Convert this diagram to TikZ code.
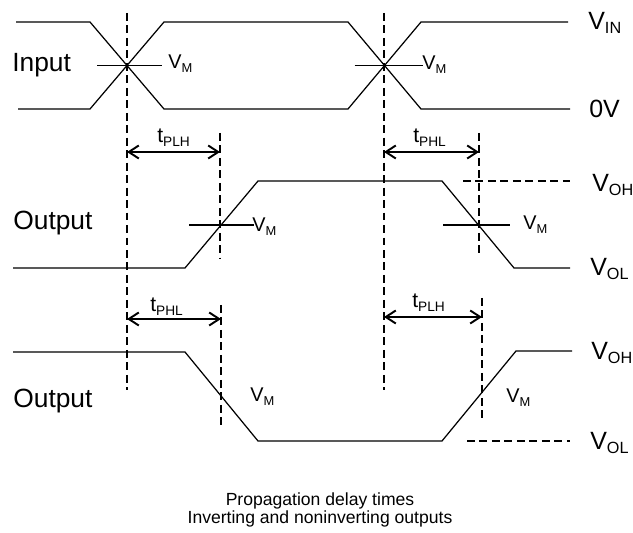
\documentclass[tikz,border=0pt]{standalone}
\usepackage{fontspec}
\setmainfont{Liberation Sans}
\usetikzlibrary{arrows.meta}
\newcommand{\pedice}[1]{\raisebox{-0.3ex}{\scalebox{0.65}{#1}}}
\tikzset{
    onda/.style={line width=0.7pt, black},
    tratteggio/.style={line width=0.7pt, dash pattern=on 4.5pt off 2.6pt},
    tacca/.style={line width=0.7pt},
    misura/.style={{Straight Barb[length=2mm,width=2.6mm]}-{Straight Barb[length=2mm,width=2.6mm]}, line width=1.1pt},
    segnale/.style={font=\fontsize{15}{18}\selectfont, inner sep=0pt, anchor=base west},
    livello/.style={font=\fontsize{14.2}{17}\selectfont, inner sep=0pt, anchor=base west},
    soglia/.style={font=\fontsize{11.3}{13}\selectfont, inner sep=0pt, anchor=base west},
    ritardo/.style={font=\fontsize{12}{14}\selectfont, inner sep=0pt, anchor=base west},
}
\begin{document}
\begin{tikzpicture}[x=0.02cm, y=-0.02cm] % coordinate in pixel, y verso il basso
    \useasboundingbox (0,0) rectangle (633,533);

    % Ingresso
    \draw[onda] (16,22) -- (90,22) -- (164,109) -- (348,109) -- (421,22) -- (568,22);
    \draw[onda] (18,109) -- (90,109) -- (164,22) -- (348,22) -- (421,109) -- (570,109);
    \coordinate (xin1) at (127,65.5);
    \coordinate (xin2) at (384.5,65.5);
    \draw[tacca] ([xshift=-17]xin1) -- ([xshift=20]xin1);
    \draw[tacca] ([xshift=-17]xin2) -- ([xshift=22]xin2);
    \node[segnale] (lin) at (12,72) {Input};
    \node[soglia] (vm1) at (168,69) {V\pedice{M}};
    \node[soglia] (vm2) at (422,70) {V\pedice{M}};
    \node[livello] (vin) at (588,30) {V\pedice{IN}};
    \node[livello] (zv) at (589,118) {0V};

    % Uscita non invertente
    \draw[onda] (13,268) -- (185,268) -- (258,181) -- (442,181) -- (514,268) -- (570,268);
    \coordinate (xo1) at (221,225);
    \coordinate (xo2) at (478.5,225);
    \draw[tacca] ([xshift=-18]xo1) -- ([xshift=19]xo1);
    \draw[tacca] ([xshift=-20]xo2) -- ([xshift=18]xo2);
    \draw[tratteggio] (463,181) -- (570,181);
    \node[segnale] (lout1) at (13,230) {Output};
    \node[soglia] (vm3) at (252,232) {V\pedice{M}};
    \node[soglia] (vm4) at (523,230) {V\pedice{M}};
    \node[livello] (voh1) at (592,192) {V\pedice{OH}};
    \node[livello] (vol1) at (590,276) {V\pedice{OL}};

    % Uscita invertente
    \draw[onda] (13,352) -- (185,352) -- (258,441) -- (442,441) -- (516,351) -- (572,351);
    \draw[tratteggio] (467,441) -- (570,441);
    \node[segnale] (lout2) at (13,408) {Output};
    \node[soglia] (vm5) at (250,402) {V\pedice{M}};
    \node[soglia] (vm6) at (506,403) {V\pedice{M}};
    \node[livello] (voh2) at (591,360) {V\pedice{OH}};
    \node[livello] (vol2) at (590,450) {V\pedice{OL}};

    % Riferimenti temporali
    \draw[tratteggio] (127,13) -- (127,390);
    \draw[tratteggio] (384,13) -- (384,390);
    \draw[tratteggio] (220,133) -- (220,258);
    \draw[tratteggio] (479,133) -- (479,257);
    \draw[tratteggio] (221,305) -- (221,427);
    \draw[tratteggio] (482,298) -- (482,422);

    % Ritardi
    \coordinate (a1) at (127,152); \coordinate (b1) at (220,152);
    \coordinate (a2) at (384,152); \coordinate (b2) at (479,152);
    \coordinate (a3) at (127,319); \coordinate (b3) at (221,319);
    \coordinate (a4) at (384,317); \coordinate (b4) at (482,317);
    \draw[misura] (a1) -- (b1);
    \draw[misura] (a2) -- (b2);
    \draw[misura] (a3) -- (b3);
    \draw[misura] (a4) -- (b4);
    \node[ritardo] (tplh1) at (157,143) {t\pedice{PLH}};
    \node[ritardo] (tphl1) at (413,143) {t\pedice{PHL}};
    \node[ritardo] (tphl2) at (150,312) {t\pedice{PHL}};
    \node[ritardo] (tplh2) at (412,308) {t\pedice{PLH}};

    % Didascalia
    \node[font=\fontsize{10}{10.3}\selectfont, align=center, anchor=north, inner sep=0pt] (did) at (320,492)
        {Propagation delay times\\Inverting and noninverting outputs};
\end{tikzpicture}
\end{document}
